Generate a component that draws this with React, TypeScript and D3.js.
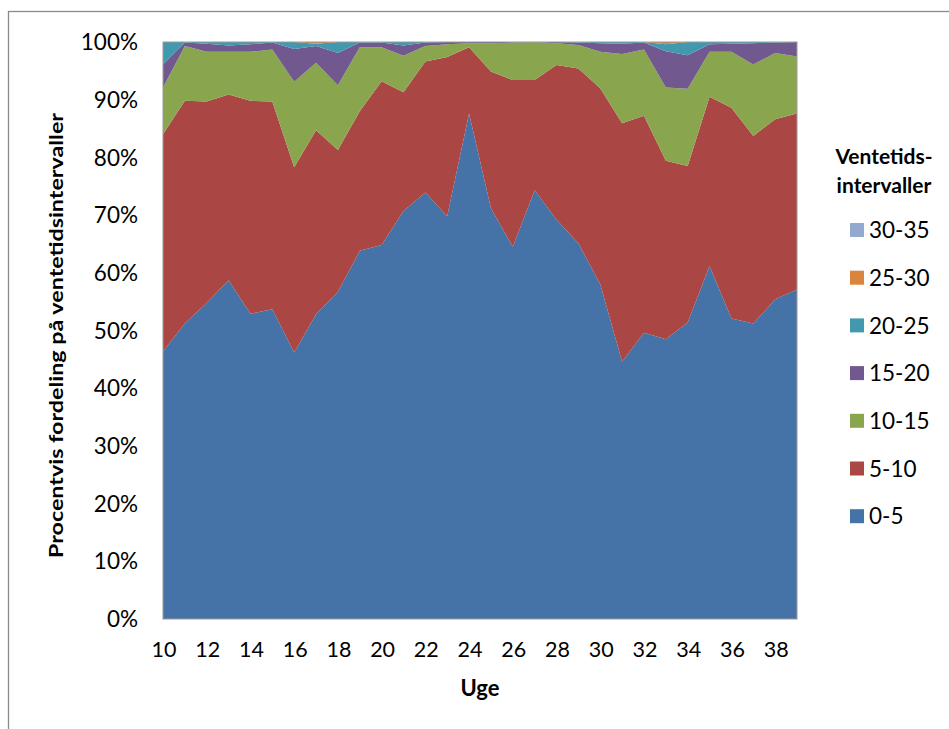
import React from "react";
import * as d3 from "d3";

// weeks on the x axis
const weeks = d3.range(10, 40);
const weekTicks = [10, 12, 14, 16, 18, 20, 22, 24, 26, 28, 30, 32, 34, 36, 38];

// share (%) of each waiting-time interval per week
const s0_5 = [46.4, 51.2, 54.8, 58.7, 52.9, 53.7, 46.2, 52.8, 56.7, 63.8, 64.8, 70.7, 73.9, 69.8, 87.6, 71.2, 64.5, 74.3, 69.2, 65.1, 58.0, 44.6, 49.6, 48.5, 51.4, 61.2, 52.1, 51.2, 55.4, 57.1];
const s5_10 = [37.6, 38.6, 34.9, 32.2, 36.9, 36.0, 32.1, 31.9, 24.6, 24.2, 28.4, 20.6, 22.7, 27.6, 11.5, 23.7, 28.9, 19.1, 26.8, 30.3, 34.0, 41.3, 37.6, 30.9, 27.1, 29.3, 36.5, 32.5, 31.2, 30.5];
const s10_15 = [8.1, 9.5, 8.6, 7.4, 8.5, 9.0, 14.8, 11.7, 11.2, 11.1, 5.9, 6.3, 2.7, 2.2, 0.7, 4.9, 6.5, 6.6, 3.8, 4.1, 6.3, 12.0, 11.5, 12.7, 13.4, 7.8, 9.7, 12.4, 11.5, 9.9];
const s15_20 = [4.0, 0.6, 1.4, 1.1, 1.3, 1.2, 5.7, 2.9, 5.6, 0.8, 0.8, 1.8, 0.6, 0.4, 0.2, 0.2, 0.1, 0.0, 0.2, 0.4, 1.5, 1.8, 1.2, 6.3, 5.8, 1.3, 1.4, 3.7, 1.8, 2.5];
const s20_25 = [3.9, 0.1, 0.3, 0.6, 0.4, 0.1, 1.2, 0.4, 1.9, 0.1, 0.1, 0.6, 0.1, 0.0, 0.0, 0.0, 0.0, 0.0, 0.0, 0.1, 0.2, 0.3, 0.1, 1.2, 2.3, 0.4, 0.3, 0.2, 0.1, 0.0];
const s25_30 = [0, 0, 0, 0, 0, 0, 0, 0.3, 0, 0, 0, 0, 0, 0, 0, 0, 0, 0, 0, 0, 0, 0, 0, 0.4, 0, 0, 0, 0, 0, 0];
const s30_35 = [0, 0, 0, 0, 0, 0, 0, 0, 0, 0, 0, 0, 0, 0, 0, 0, 0, 0, 0, 0, 0, 0, 0, 0, 0, 0, 0, 0, 0, 0];

const seriesNames = ["0-5", "5-10", "10-15", "15-20", "20-25", "25-30", "30-35"];
const seriesValues = [s0_5, s5_10, s10_15, s15_20, s20_25, s25_30, s30_35];
const colors = ["#4572A7", "#AA4643", "#89A54E", "#71588F", "#4198AF", "#DB843D", "#93A9CF"];

const yTicks = [0, 0.1, 0.2, 0.3, 0.4, 0.5, 0.6, 0.7, 0.8, 0.9, 1];

const App = () => {
    const [width, height] = [949, 729];
    const plot = { left: 163, right: 797, top: 42, bottom: 619 };
    const font = "Lato, 'Open Sans', sans-serif";

    // rows for d3.stack
    const rows = weeks.map((w, i) => {
        const row: any = { week: w };
        seriesNames.forEach((name, k) => { row[name] = seriesValues[k][i]; });
        return row;
    });

    const stacked = d3.stack()
        .keys(seriesNames)
        .offset(d3.stackOffsetExpand)(rows);

    const xScale = d3.scaleLinear()
        .domain([10, 39])
        .range([plot.left, plot.right]);

    const yScale = d3.scaleLinear()
        .domain([0, 1])
        .range([plot.bottom, plot.top]);

    const area = d3.area<any>()
        .x((d) => xScale(d.data.week))
        .y0((d) => yScale(d[0]))
        .y1((d) => yScale(d[1]));

    const fmt = d3.format(".0%");

    // legend goes top (30-35) to bottom (0-5)
    const legendOrder = [...seriesNames].reverse();

    return (
        <svg width={width} height={height}
            style={{ position: "absolute", left: 0, top: 0, background: "#fff" }}>
            {/* outer chart border */}
            <rect x={8.5} y={11.5} width={width} height={height} fill="none" stroke="#8a8a8a" strokeWidth={1.3} />

            {stacked.map((layer, k) => (
                <path key={layer.key} d={area(layer as any) || ""} fill={colors[k]} />
            ))}

            {/* plot area border */}
            <rect x={plot.left} y={plot.top} width={plot.right - plot.left} height={plot.bottom - plot.top}
                fill="none" stroke="#9a9a9a" strokeWidth={1} />

            {/* y tick labels */}
            {yTicks.map((t) => (
                <text key={t} x={138} y={yScale(t)} dy="0.36em" textAnchor="end"
                    fontFamily={font} fontSize={22.5} fill="#000">{fmt(t)}</text>
            ))}

            {/* x tick labels */}
            {weekTicks.map((w) => (
                <text key={w} x={xScale(w) + 1} y={657} textAnchor="middle"
                    fontFamily={font} fontSize={21.5} fill="#000">{w}</text>
            ))}

            {/* axis titles */}
            <text x={480} y={696} textAnchor="middle" fontFamily={font} fontWeight="bold" fontSize={22}>Uge</text>
            <text transform={`translate(63, ${(plot.top + plot.bottom) / 2 + 5}) rotate(-90)`} textAnchor="middle"
                fontFamily={font} fontWeight="bold" fontSize={19.5} textLength={445} lengthAdjust="spacingAndGlyphs">
                Procentvis fordeling på ventetidsintervaller
            </text>

            {/* legend */}
            <text x={884} y={164} textAnchor="middle" fontFamily={font} fontWeight="bold" fontSize={21}>Ventetids-</text>
            <text x={884} y={193} textAnchor="middle" fontFamily={font} fontWeight="bold" fontSize={21}>intervaller</text>
            {legendOrder.map((name, i) => {
                const k = seriesNames.indexOf(name);
                const cy = 230 + i * 47.7;
                return (
                    <g key={name}>
                        <rect x={850} y={cy - 7} width={14} height={14} fill={colors[k]} />
                        <text x={869} y={cy} dy="0.36em" fontFamily={font} fontSize={22.5} fill="#000">{name}</text>
                    </g>
                );
            })}
        </svg>
    );
};

export default App;
